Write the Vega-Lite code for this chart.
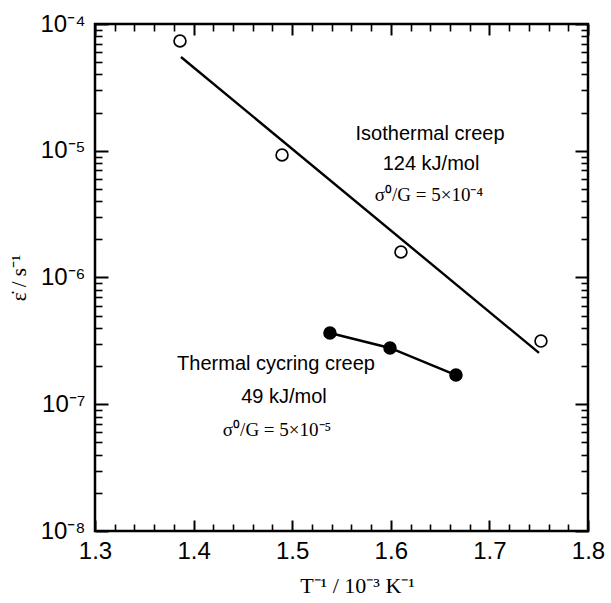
{
  "$schema": "https://vega.github.io/schema/vega-lite/v6.json",
  "width": 493,
  "height": 507,
  "autosize": "none",
  "padding": {"left": 95, "top": 24, "right": 23, "bottom": 72},
  "background": "white",
  "config": {
    "view": {"stroke": "black", "strokeWidth": 2.5, "fill": null},
    "axis": {"grid": false, "domain": false, "labelColor": "black", "titleColor": "black", "zindex": 2}
  },
  "datasets": {
    "pts": [
      {"T": 1.3862, "rate": 7.34e-5, "series": "Isothermal"},
      {"T": 1.4897, "rate": 9.26e-6, "series": "Isothermal"},
      {"T": 1.6103, "rate": 1.59e-6, "series": "Isothermal"},
      {"T": 1.7523, "rate": 3.15e-7, "series": "Isothermal"},
      {"T": 1.5383, "rate": 3.65e-7, "series": "Cycling"},
      {"T": 1.5992, "rate": 2.78e-7, "series": "Cycling"},
      {"T": 1.6661, "rate": 1.70e-7, "series": "Cycling"}
    ],
    "fit": [
      {"T": 1.3872, "rate": 5.49e-5},
      {"T": 1.7503, "rate": 2.54e-7}
    ],
    "sans": [
      {"T": 1.6398, "rate": 1.36e-5, "text": "Isothermal creep"},
      {"T": 1.6408, "rate": 7.9e-6, "text": "124 kJ/mol"},
      {"T": 1.4836, "rate": 2.08e-7, "text": "Thermal cycring creep"},
      {"T": 1.4917, "rate": 1.14e-7, "text": "49 kJ/mol"}
    ],
    "serif": [
      {"T": 1.6387, "rate": 4.5e-6, "text": "σ⁰/G = 5×10⁻⁴"},
      {"T": 1.4846, "rate": 6.3e-8, "text": "σ⁰/G = 5×10⁻⁵"}
    ]
  },
  "resolve": {"axis": {"x": "independent", "y": "independent"}},
  "layer": [
    {
      "data": {"name": "fit"},
      "mark": {"type": "line", "color": "black", "strokeWidth": 2.4},
      "encoding": {
        "x": {"field": "T", "type": "quantitative",
          "scale": {"domain": [1.3, 1.8], "nice": false, "zero": false},
          "axis": {"orient": "bottom", "values": [1.3, 1.4, 1.5, 1.6, 1.7, 1.8], "format": ".1f", "zindex": 2,
            "offset": -11, "ticks": true, "tickSize": 11, "tickColor": "#000000", "tickWidth": 2, "tickOpacity": 1,
            "labelFont": "Liberation Sans", "labelFontSize": 24, "labelPadding": 8, "labelFlush": false, "labelOverlap": false,
            "title": "T⁻¹ / 10⁻³ K⁻¹", "titleFont": "Liberation Serif", "titleFontSize": 22, "titleFontWeight": "normal", "titlePadding": 12, "titleX": 262}},
        "y": {"field": "rate", "type": "quantitative",
          "scale": {"type": "log", "domain": [1e-8, 1e-4], "nice": false},
          "axis": {"orient": "left", "values": [1e-8, 1e-7, 1e-6, 1e-5, 1e-4], "zindex": 2,
            "labelExpr": "'10⁻' + substring('⁰¹²³⁴⁵⁶⁷⁸⁹', -round(log(datum.value)/LN10), -round(log(datum.value)/LN10) + 1)",
            "offset": -13, "ticks": true, "tickSize": 13, "tickColor": "#000000", "tickWidth": 2, "tickOpacity": 1,
            "labelFont": "Liberation Sans", "labelFontSize": 24, "labelPadding": 10, "labelFlush": false, "labelOverlap": false,
            "title": "ε̇ / s⁻¹", "titleFont": "Liberation Serif", "titleFontSize": 21, "titleFontWeight": "normal", "titlePadding": 10}}
      }
    },
    {
      "data": {"name": "pts"},
      "transform": [{"filter": "datum.series == 'Cycling'"}],
      "mark": {"type": "line", "color": "black", "strokeWidth": 2.4},
      "encoding": {
        "x": {"field": "T", "type": "quantitative",
          "axis": {"orient": "top", "values": [1.3, 1.4, 1.5, 1.6, 1.7, 1.8], "labels": false, "title": null, "zindex": 2, "offset": -11, "ticks": true, "tickSize": 11, "tickColor": "#000000", "tickWidth": 2, "tickOpacity": 1}},
        "y": {"field": "rate", "type": "quantitative",
          "axis": {"orient": "right", "values": [1e-8, 1e-7, 1e-6, 1e-5, 1e-4], "labels": false, "title": null, "zindex": 2, "offset": -13, "ticks": true, "tickSize": 13, "tickColor": "#000000", "tickWidth": 2, "tickOpacity": 1}}
      }
    },
    {
      "data": {"name": "pts"},
      "mark": {"type": "point", "size": 140, "strokeWidth": 1.7, "opacity": 1},
      "encoding": {
        "x": {"field": "T", "type": "quantitative",
          "axis": {"orient": "bottom", "values": [1.32,1.34,1.36,1.38,1.42,1.44,1.46,1.48,1.52,1.54,1.56,1.58,1.62,1.64,1.66,1.68,1.72,1.74,1.76,1.78],
            "labels": false, "title": null, "zindex": 2, "offset": -7, "ticks": true, "tickSize": 7, "tickColor": "#000000", "tickWidth": 1.6, "tickOpacity": 1}},
        "y": {"field": "rate", "type": "quantitative",
          "axis": {"orient": "left", "values": [2e-8,3e-8,4e-8,5e-8,6e-8,7e-8,8e-8,9e-8,2e-7,3e-7,4e-7,5e-7,6e-7,7e-7,8e-7,9e-7,2e-6,3e-6,4e-6,5e-6,6e-6,7e-6,8e-6,9e-6,2e-5,3e-5,4e-5,5e-5,6e-5,7e-5,8e-5,9e-5],
            "labels": false, "title": null, "zindex": 2, "offset": -7, "ticks": true, "tickSize": 7, "tickColor": "#000000", "tickWidth": 1.6, "tickOpacity": 1}},
        "fill": {"field": "series", "type": "nominal", "scale": {"domain": ["Isothermal", "Cycling"], "range": ["white", "black"]}, "legend": null},
        "stroke": {"value": "black"},
        "shape": {"value": "circle"}
      }
    },
    {
      "data": {"name": "sans"},
      "mark": {"type": "text", "font": "Liberation Sans", "fontSize": 20, "color": "black", "align": "center", "baseline": "middle"},
      "encoding": {
        "x": {"field": "T", "type": "quantitative",
          "axis": {"orient": "top", "values": [1.32,1.34,1.36,1.38,1.42,1.44,1.46,1.48,1.52,1.54,1.56,1.58,1.62,1.64,1.66,1.68,1.72,1.74,1.76,1.78],
            "labels": false, "title": null, "zindex": 2, "offset": -7, "ticks": true, "tickSize": 7, "tickColor": "#000000", "tickWidth": 1.6, "tickOpacity": 1}},
        "y": {"field": "rate", "type": "quantitative",
          "axis": {"orient": "right", "values": [2e-8,3e-8,4e-8,5e-8,6e-8,7e-8,8e-8,9e-8,2e-7,3e-7,4e-7,5e-7,6e-7,7e-7,8e-7,9e-7,2e-6,3e-6,4e-6,5e-6,6e-6,7e-6,8e-6,9e-6,2e-5,3e-5,4e-5,5e-5,6e-5,7e-5,8e-5,9e-5],
            "labels": false, "title": null, "zindex": 2, "offset": -7, "ticks": true, "tickSize": 7, "tickColor": "#000000", "tickWidth": 1.6, "tickOpacity": 1}},
        "text": {"field": "text"}
      }
    },
    {
      "data": {"name": "serif"},
      "mark": {"type": "text", "font": "Liberation Serif", "fontSize": 19, "color": "black", "align": "center", "baseline": "middle"},
      "encoding": {
        "x": {"field": "T", "type": "quantitative", "axis": null},
        "y": {"field": "rate", "type": "quantitative", "axis": null},
        "text": {"field": "text"}
      }
    }
  ]
}
